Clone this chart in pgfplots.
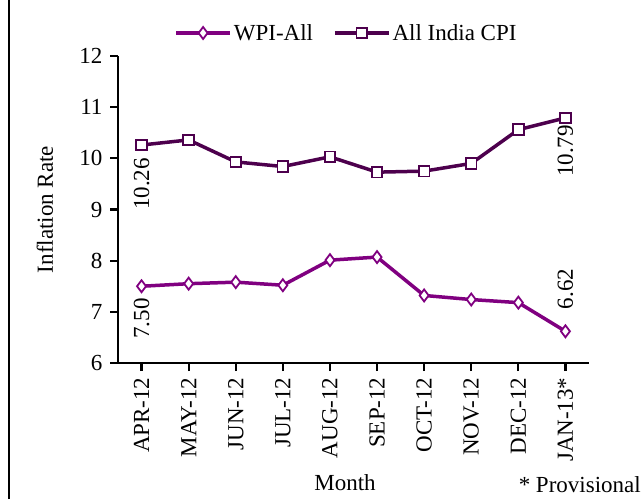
\documentclass[border=0pt]{standalone}
\usepackage{fontspec}
\setmainfont{Liberation Serif}
\usepackage{pgfplots}
\pgfplotsset{compat=1.18}
\definecolor{wpi}{RGB}{128,0,128}
\definecolor{cpi}{RGB}{77,0,77}
\begin{document}
\begin{tikzpicture}[font=\fontsize{23}{27}\selectfont]
\useasboundingbox (0,0) rectangle (643pt,499pt);
\draw[line width=2pt] (9pt,0) -- (9pt,499pt);
\begin{axis}[
  at={(118pt,136pt)}, anchor=south west,
  scale only axis, width=471pt, height=307pt,
  xmin=-0.5, xmax=9.5, ymin=6, ymax=12,
  xtick={0,...,9},
  xticklabels={APR-12,MAY-12,JUN-12,JUL-12,AUG-12,SEP-12,OCT-12,NOV-12,DEC-12,JAN-13*},
  ytick={6,...,12},
  /pgf/number format/assume math mode=true,
  axis x line*=bottom, axis y line*=left,
  axis line style={line width=2.3pt},
  tick style={line width=2.3pt, black},
  tick align=outside, major tick length=8pt,
  xticklabel style={rotate=90, anchor=east, xshift=-3pt},
  yticklabel style={xshift=-4pt},
  every axis y label/.style={at={(rel axis cs:-0.155,0.5)}, rotate=90, anchor=center},
  ylabel={Inflation Rate},
  every axis x label/.style={at={(rel axis cs:0.482,-0.39)}, anchor=center},
  xlabel={Month},
  legend style={at={(rel axis cs:0.485,1.075)}, anchor=center, draw=none, fill=none,
    legend columns=2, /tikz/every even column/.append style={column sep=18pt}},
  legend image code/.code={\draw[mark repeat=2,mark phase=2] plot coordinates {(0pt,0pt) (27pt,0pt) (54pt,0pt)};},
  clip=false,
]
\addplot[wpi, line width=3.5pt, mark=diamond*, mark size=6pt,
  mark options={fill=white, draw=wpi, line width=1.8pt, solid}]
  coordinates {(0,7.50) (1,7.55) (2,7.58) (3,7.52) (4,8.01) (5,8.07) (6,7.32) (7,7.24) (8,7.18) (9,6.62)};
\addlegendentry{WPI-All}
\addplot[cpi, line width=3.5pt, mark=square*, mark size=5.3pt,
  mark options={fill=white, draw=cpi, line width=1.8pt, solid}]
  coordinates {(0,10.26) (1,10.36) (2,9.93) (3,9.84) (4,10.03) (5,9.73) (6,9.75) (7,9.90) (8,10.56) (9,10.79)};
\addlegendentry{All India CPI}
\path (axis cs:0,10.26) ++(0pt,-13pt) node[rotate=90,anchor=east,inner sep=0pt]{10.26};
\path (axis cs:9,10.79) ++(0pt,-7pt) node[rotate=90,anchor=east,inner sep=0pt]{10.79};
\path (axis cs:0,7.50) ++(0pt,-12pt) node[rotate=90,anchor=east,inner sep=0pt]{7.50};
\path (axis cs:9,6.62) ++(0pt,22pt) node[rotate=90,anchor=west,inner sep=0pt]{6.62};
\node[anchor=east, inner sep=0pt] at (rel axis cs:1.1104,-0.395) {* Provisional};
\end{axis}
\end{tikzpicture}
\end{document}
